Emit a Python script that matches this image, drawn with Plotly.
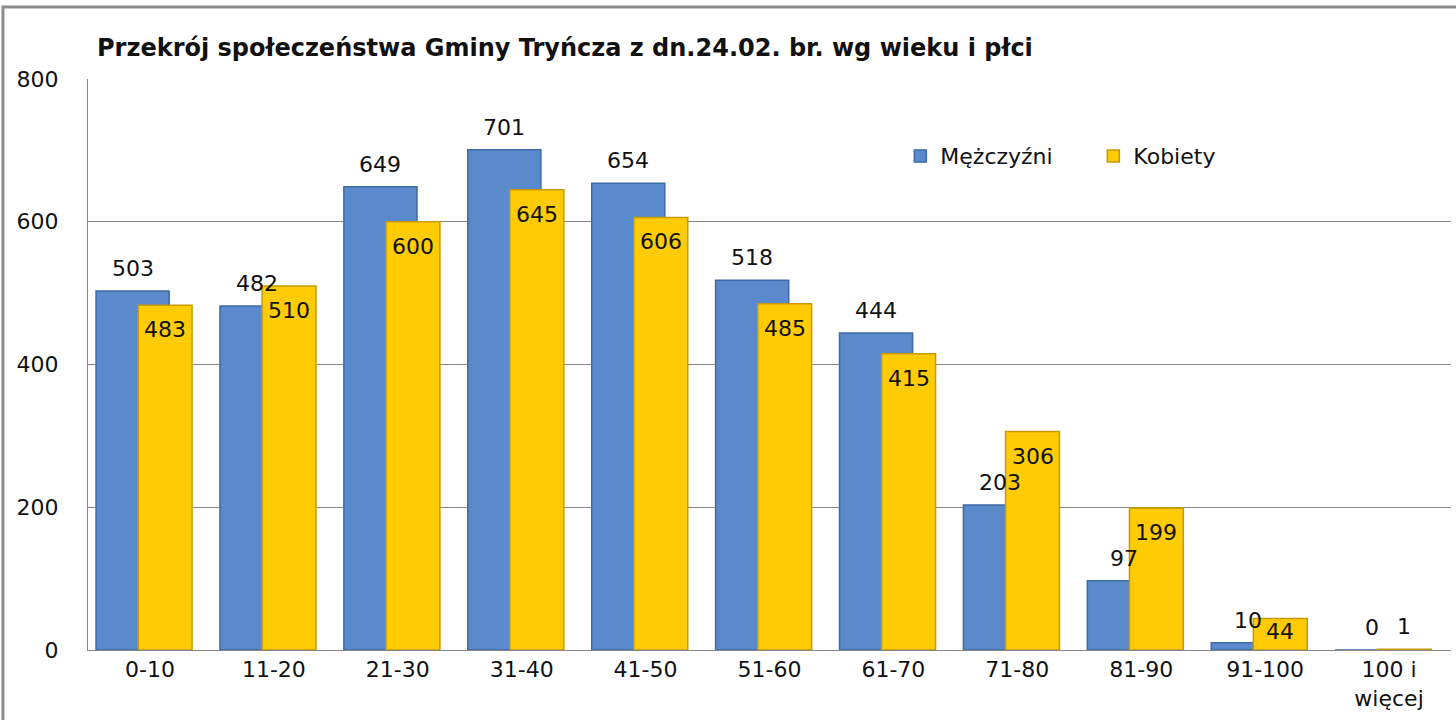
import plotly.graph_objects as go

categories = ["0-10", "11-20", "21-30", "31-40", "41-50", "51-60", "61-70",
              "71-80", "81-90", "91-100", "100 i<br>więcej"]
men = [503, 482, 649, 701, 654, 518, 444, 203, 97, 10, 0]
women = [483, 510, 600, 645, 606, 485, 415, 306, 199, 44, 1]
y_ticks = [0, 200, 400, 600, 800]

FONT = "DejaVu Sans"
BLUE = "#5A8ACB"
BLUE_LINE = "#3D6AA8"
YELLOW = "#FFCB05"
YELLOW_LINE = "#C79A00"

W, H = 1456, 720

idx = list(range(len(categories)))
b_off, b_w = -0.435, 0.59
y_off, y_w = -0.095, 0.435

fig = go.Figure()
fig.add_trace(go.Bar(
    x=idx, y=men, name="Mężczyźni", offset=b_off, width=b_w,
    marker=dict(color=BLUE, line=dict(color=BLUE_LINE, width=1.5)),
    hoverinfo="skip"))
fig.add_trace(go.Bar(
    x=idx, y=women, name="Kobiety", offset=y_off, width=y_w,
    marker=dict(color=YELLOW, line=dict(color=YELLOW_LINE, width=1.5)),
    hoverinfo="skip"))

# data labels
label_font = dict(family=FONT, size=22, color="#111")
for i, v in zip(idx, men):
    fig.add_annotation(x=i + b_off + b_w / 2, y=v, text=str(v), showarrow=False,
                       yanchor="bottom", yshift=8, font=label_font)
for i, v in zip(idx, women):
    inside = v > 20
    fig.add_annotation(x=i + y_off + y_w / 2, y=v, text=str(v), showarrow=False,
                       yanchor="top" if inside else "bottom",
                       yshift=(-10 if v > 100 else 2) if inside else 8, font=label_font)

fig.update_layout(
    width=W, height=H,
    margin=dict(l=88, r=5, t=79, b=70),
    paper_bgcolor="white", plot_bgcolor="white",
    barmode="overlay",
    font=dict(family=FONT, size=22, color="#111"),
    title=dict(text="<b>Przekrój społeczeństwa Gminy Tryńcza z dn.24.02. br. wg wieku i płci</b>",
               x=97 / W, xanchor="left", y=1 - 48 / H, yanchor="middle",
               font=dict(family=FONT, size=24, color="#111")),
    legend=dict(orientation="h", x=0.596, xanchor="left", y=0.865, yanchor="middle",
                font=dict(family=FONT, size=22, color="#111"),
                entrywidth=148, entrywidthmode="pixels",
                bgcolor="rgba(0,0,0,0)"),
    xaxis=dict(range=[-0.5, len(categories) - 0.5], tickvals=idx, ticktext=categories,
               showgrid=False, zeroline=False, showline=True, linecolor="#868686",
               linewidth=1, ticks="", tickfont=dict(family=FONT, size=22, color="#111")),
    yaxis=dict(range=[0, 800], tickvals=y_ticks, showgrid=True, gridcolor="#868686",
               gridwidth=1, zeroline=False, showline=True, linecolor="#868686",
               linewidth=1, ticks="", ticklabelstandoff=24,
               tickfont=dict(family=FONT, size=22, color="#111")),
    shapes=[dict(type="rect", xref="paper", yref="paper",
                 x0=-0.0624, x1=1.2, y0=-0.4, y1=1.126,
                 line=dict(color="#8C8C8C", width=3), layer="above")],
)

fig.write_html("out.html", config={"displayModeBar": False},
               post_script="document.body.style.margin='0';")
